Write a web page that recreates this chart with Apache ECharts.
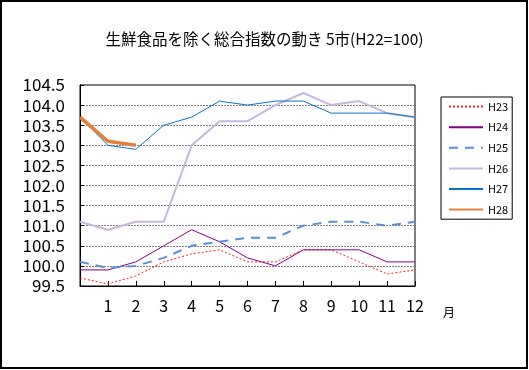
<!DOCTYPE html>
<html>
<head>
<meta charset="utf-8">
<script src="https://cdn.jsdelivr.net/npm/echarts@6/dist/echarts.min.js"></script>
<style>
html,body{margin:0;padding:0;background:#fff;}
#c{width:529px;height:370px;}
</style>
</head>
<body>
<div id="c"></div>
<script>
var months = ['', '1', '2', '3', '4', '5', '6', '7', '8', '9', '10', '11', '12'];
var yTicks = [99.5, 104.5, 0.5];
var H23 = [99.7, 99.55, 99.75, 100.1, 100.3, 100.4, 100.1, 100.1, 100.4, 100.4, 100.1, 99.8, 99.9];
var H24 = [99.9, 99.9, 100.1, 100.5, 100.9, 100.6, 100.2, 100.0, 100.4, 100.4, 100.4, 100.1, 100.1];
var H25 = [100.1, 99.95, 100.0, 100.2, 100.5, 100.6, 100.7, 100.7, 101.0, 101.1, 101.1, 101.0, 101.1];
var H26 = [101.1, 100.9, 101.1, 101.1, 103.0, 103.6, 103.6, 104.0, 104.3, 104.0, 104.1, 103.8, 103.7];
var H27 = [103.7, 103.0, 102.9, 103.5, 103.7, 104.1, 104.0, 104.1, 104.1, 103.8, 103.8, 103.8, 103.7];
var H28 = [103.7, 103.1, 103.0];
var names = ['H23', 'H24', 'H25', 'H26', 'H27', 'H28'];

var FONT = '"Noto Sans CJK JP", "Noto Sans", sans-serif';
var chart = echarts.init(document.getElementById('c'), null, {renderer: 'canvas'});

function mk(name, data, color, width, type) {
  return {
    name: name, type: 'line', data: data, symbol: 'none', smooth: false,
    lineStyle: {color: color, width: width, type: type},
    itemStyle: {color: color},
    animation: false
  };
}

chart.setOption({
  animation: false,
  title: {
    text: '生鮮食品を除く総合指数の動き 5市(H22=100)',
    left: 'center', top: 26,
    textStyle: {fontFamily: FONT, fontSize: 15.5, fontWeight: 'normal', color: '#000'}
  },
  grid: {left: 80, top: 85, right: 114, bottom: 84, show: true, borderColor: '#000', borderWidth: 1, backgroundColor: 'transparent'},
  legend: {
    orient: 'vertical', left: 441, top: 97,
    data: names,
    itemWidth: 34, itemHeight: 14, itemGap: 9.4,
    borderColor: '#000', borderWidth: 1,
    padding: [4, 4, 4, 7],
    itemStyle: {opacity: 0},
    textStyle: {fontFamily: FONT, fontSize: 11, color: '#000'},
    inactiveColor: '#ccc'
  },
  xAxis: {
    type: 'category', data: months, boundaryGap: false,
    name: '月', nameLocation: 'end', nameGap: 28,
    nameTextStyle: {fontFamily: FONT, fontSize: 12, color: '#000', verticalAlign: 'top', padding: [20, 0, 0, 0]},
    axisLine: {lineStyle: {color: '#000', width: 1}},
    axisTick: {show: true, inside: true, length: 5, interval: 0, lineStyle: {color: '#000'}},
    axisLabel: {interval: 0, fontFamily: FONT, fontSize: 16, color: '#000', margin: 12},
    splitLine: {show: false}
  },
  yAxis: {
    type: 'value', min: yTicks[0], max: yTicks[1], interval: yTicks[2],
    axisLine: {show: true, lineStyle: {color: '#000', width: 1}},
    axisTick: {show: true, inside: true, length: 4, lineStyle: {color: '#000'}},
    axisLabel: {fontFamily: FONT, fontSize: 17, color: '#000', margin: 15,
      formatter: function (v) { return v.toFixed(1); }},
    splitLine: {show: true, showMinLine: false, showMaxLine: false, lineStyle: {color: '#808080', type: [2, 1], width: 1}}
  },
  series: [
    mk('H23', H23, '#FF2020', 1, [2, 2]),
    mk('H24', H24, '#800080', 1, 'solid'),
    mk('H25', H25, '#5A8ED8', 2, [9, 7]),
    mk('H26', H26, '#C6B8DC', 2, 'solid'),
    mk('H27', H27, '#0A74C4', 1, 'solid'),
    mk('H28', H28, '#E3803A', 3.5, 'solid')
  ],
  graphic: [{
    type: 'rect', shape: {x: 1, y: 1, width: 526, height: 367},
    style: {fill: 'none', stroke: '#000', lineWidth: 2}, silent: true, z: 100
  }]
});
</script>
</body>
</html>
